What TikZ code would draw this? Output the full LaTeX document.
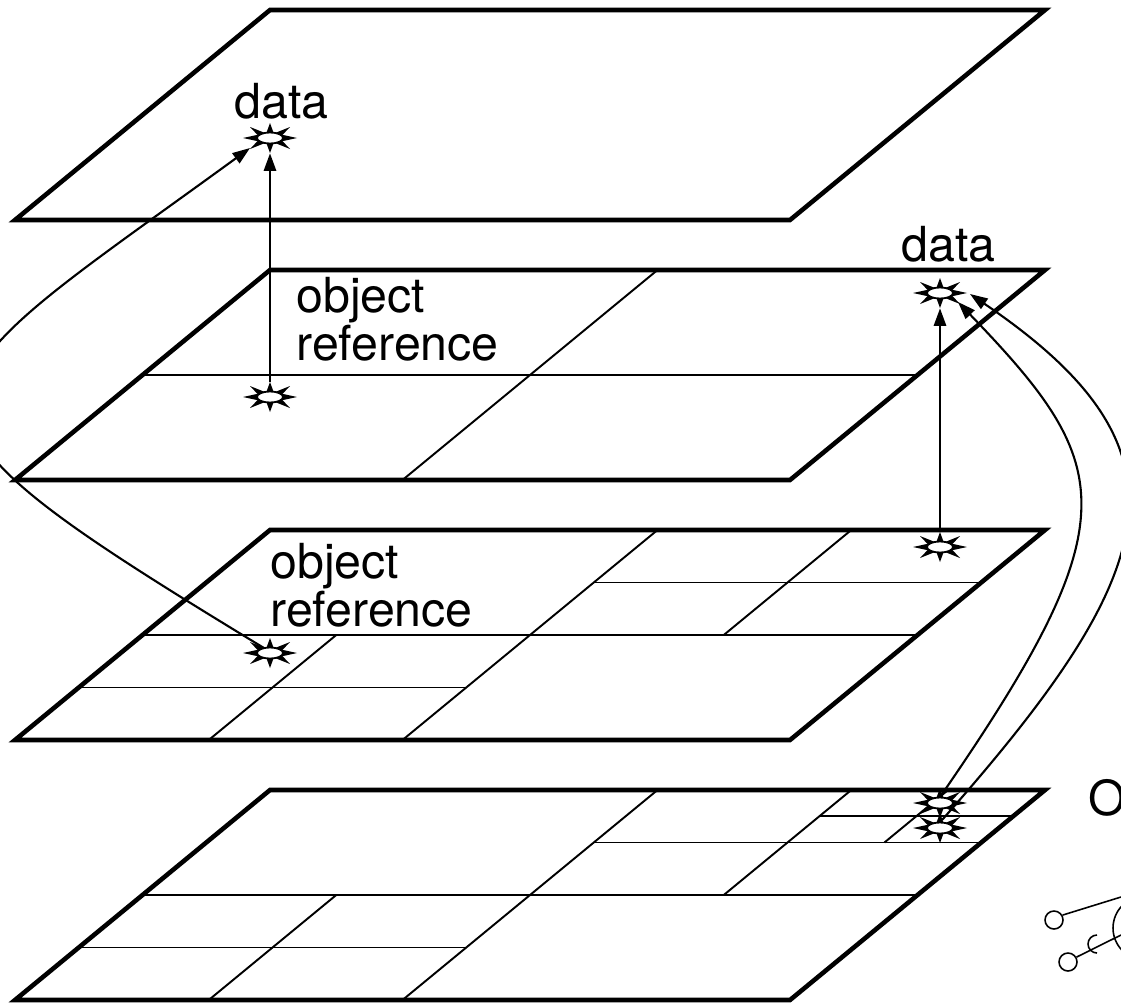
\documentclass[tikz,border=0pt]{standalone}
\usepackage{fontspec}
\setmainfont{TeX Gyre Heros}
\usetikzlibrary{arrows.meta,calc}
\tikzset{
  plane/.style={line width=2.6pt, line join=miter},
  gridline/.style={line width=1.1pt},
  link/.style={line width=1.2pt, -{Triangle[length=10pt,width=7pt]}},
  starbox/.style={rectangle, minimum width=1.08cm, minimum height=0.6cm, inner sep=0pt},
  lbl/.style={anchor=base west, inner sep=0pt, align=left, font=\fontsize{27.5}{22}\selectfont},
  smallring/.style={circle, draw, line width=0.9pt, minimum size=0.36cm, inner sep=0pt},
}
\newcommand\drawspikes[1]{%
  \begin{scope}[shift={(#1.center)}]
    \fill (11,-3.5) -- (27,0) -- (11,3.5) -- cycle;
    \fill (-11,-3.5) -- (-27,0) -- (-11,3.5) -- cycle;
    \fill (-4,-4) -- (0,-15) -- (4,-4) -- cycle;
    \fill (-4,4) -- (0,15) -- (4,4) -- cycle;
    \fill (5,-5) -- (20,-11) -- (11,-1.5) -- cycle;
    \fill (-5,-5) -- (-20,-11) -- (-11,-1.5) -- cycle;
    \fill (5,5) -- (20,11) -- (11,1.5) -- cycle;
    \fill (-5,5) -- (-20,11) -- (-11,1.5) -- cycle;
    \draw[line width=1pt, fill=white] (0,0) ellipse [x radius=13, y radius=5.5];
  \end{scope}}
\begin{document}
\begin{tikzpicture}[x=0.02cm,y=-0.02cm]
\useasboundingbox (0,0) rectangle (1121,1007);
\clip (0,0) rectangle (1121,1007);

% planes
\draw[plane] (270,10) -- (1045,10) -- (790,220) -- (15,220) -- cycle;
\draw[plane] (270,270) -- (1045,270) -- (790,480) -- (15,480) -- cycle;
\draw[plane] (270,530) -- (1045,530) -- (790,740) -- (15,740) -- cycle;
\draw[plane] (270,790) -- (1045,790) -- (790,1000) -- (15,1000) -- cycle;

% grid of plane 2
\draw[gridline] (142.5,375) -- (917.5,375);
\draw[gridline] (657.5,270) -- (402.5,480);

% grid of plane 3
\draw[gridline] (142.5,635) -- (917.5,635);
\draw[gridline] (657.5,530) -- (402.5,740);
\draw[gridline] (78.75,687.5) -- (466.25,687.5);
\draw[gridline] (336.25,635) -- (208.75,740);
\draw[gridline] (593.75,582.5) -- (981.25,582.5);
\draw[gridline] (851.25,530) -- (723.75,635);

% grid of plane 4
\draw[gridline] (142.5,895) -- (917.5,895);
\draw[gridline] (657.5,790) -- (402.5,1000);
\draw[gridline] (78.75,947.5) -- (466.25,947.5);
\draw[gridline] (336.25,895) -- (208.75,1000);
\draw[gridline] (593.75,842.5) -- (981.25,842.5);
\draw[gridline] (851.25,790) -- (723.75,895);
\draw[gridline] (819.4,816.25) -- (1013.1,816.25);
\draw[gridline] (948.1,790) -- (884.4,842.5);

% star nodes
\node[starbox] (s1) at (270,138) {};
\node[starbox] (s2) at (270,397) {};
\node[starbox] (s3) at (270,653) {};
\node[starbox] (s4) at (940,293) {};
\node[starbox] (s5) at (940,547) {};
\node[starbox] (s6) at (940,803) {};
\node[starbox] (s7) at (940,828) {};

% labels
\node[lbl] (l1) at (234,118) {data};
\node[lbl] (l2) at (901,261) {data};
\node[lbl] (l3) at (296,360) {object\\reference};
\node[lbl] (l4) at (270,626) {object\\reference};
\node[lbl] (l5) at (1088,815) {O};

% connectors
\draw[link] (s2.north) -- (s1.south);
\draw[link] (s5.north) -- (s4.south);
\draw[link] ($(s3.center)+(-6,-5)$) .. controls (-148,398) and (-100,403) .. ($(s1.center)+(-20,10)$);
\draw[link] ($(s6.center)+(0,-6)$) .. controls (1132,519) and (1115,465) .. ($(s4.center)+(18,9)$);
\draw[link] ($(s7.center)+(2,-8)$) .. controls (1165,568) and (1200,450) .. ($(s4.center)+(30,1)$);

% stars drawn on top
\drawspikes{s1}
\drawspikes{s2}
\drawspikes{s3}
\drawspikes{s4}
\drawspikes{s5}
\drawspikes{s6}
\drawspikes{s7}

% cut-off figure at bottom right
\node[smallring] (c1) at (1054,920) {};
\node[smallring] (c2) at (1068,962) {};
\coordinate (e1) at (1121,897);
\coordinate (e2) at (1121,935);
\draw[line width=0.9pt] (c1.30) -- (e1);
\draw[line width=0.9pt] (c2.30) -- (e2);
\draw[line width=0.9pt] (1145,928) circle [radius=32];
\draw[line width=0.9pt] (1097,953) arc [start angle=90, end angle=270, radius=9];
\end{tikzpicture}
\end{document}
